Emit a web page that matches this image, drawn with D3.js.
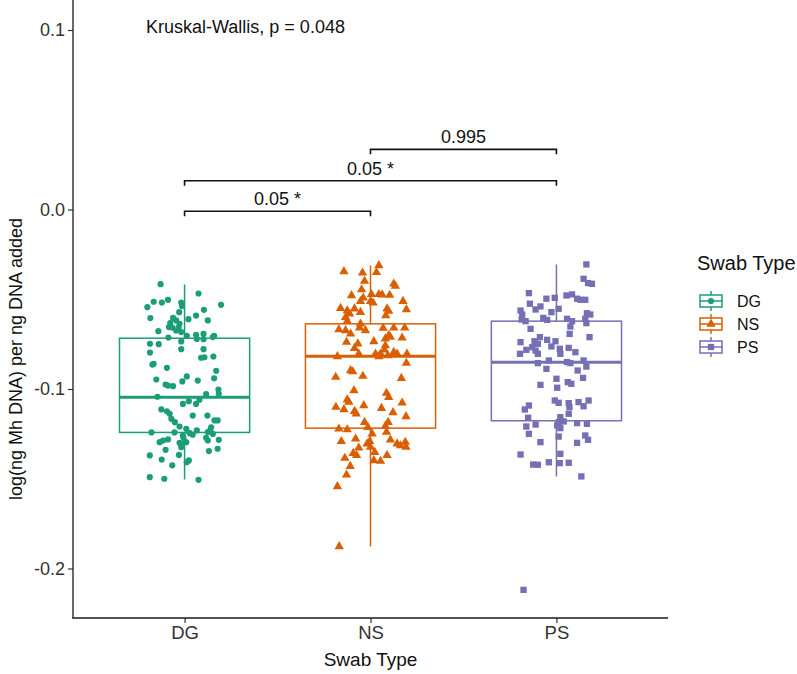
<!DOCTYPE html>
<html>
<head>
<meta charset="utf-8">
<script src="https://cdn.jsdelivr.net/npm/d3@7"></script>
<style>
  html, body { margin: 0; padding: 0; background: #ffffff; }
  svg { display: block; font-family: "Liberation Sans", Arial, Helvetica, sans-serif; }
</style>
</head>
<body>
<svg id="chart" width="797" height="674"></svg>
<script>
// ---------------- DATA ----------------
const categories = ["DG", "NS", "PS"];
const colors = ["#1b9e77", "#d95f02", "#7570b3"];
const yTicks = [-0.2, -0.1, 0.0, 0.1];

// box statistics
const boxQ1     = [-0.1242, -0.1218, -0.1177];
const boxMedian = [-0.1046, -0.0818, -0.0851];
const boxQ3     = [-0.0717, -0.0637, -0.0622];
const boxLow    = [-0.1504, -0.1877, -0.1487];
const boxHigh   = [-0.0418, -0.0312, -0.0306];

// jittered observations: value and horizontal jitter (in category-step units)
const dgValues = [-0.0416,-0.0468,-0.0514,-0.0518,-0.0503,-0.0544,-0.0518,-0.0538,-0.0531,-0.0559,-0.0572,-0.0591,-0.0605,-0.0604,-0.0611,-0.0618,-0.0618,-0.0633,-0.0637,-0.0655,-0.0658,-0.0674,-0.0658,-0.0678,-0.0683,-0.0713,-0.0704,-0.0698,-0.0693,-0.0721,-0.0723,-0.0711,-0.0704,-0.0735,-0.0748,-0.0750,-0.0778,-0.0778,-0.0797,-0.0826,-0.0823,-0.0819,-0.0864,-0.0860,-0.0882,-0.0899,-0.0947,-0.0930,-0.0958,-0.0953,-0.0940,-0.0975,-0.0981,-0.0984,-0.1003,-0.1029,-0.1027,-0.1043,-0.1060,-0.1068,-0.1083,-0.1083,-0.1114,-0.1124,-0.1138,-0.1148,-0.1148,-0.1166,-0.1185,-0.1175,-0.1175,-0.1209,-0.1222,-0.1231,-0.1242,-0.1213,-0.1240,-0.1250,-0.1259,-0.1242,-0.1246,-0.1287,-0.1281,-0.1300,-0.1296,-0.1272,-0.1287,-0.1283,-0.1339,-0.1324,-0.1346,-0.1333,-0.1370,-0.1367,-0.1398,-0.1393,-0.1408,-0.1425,-0.1491,-0.1500,-0.1506,-0.1296,-0.1255,-0.1305,-0.1272,-0.1231];
const dgJitter = [-0.129,0.075,-0.166,-0.122,-0.089,-0.200,-0.018,-0.014,0.196,0.104,-0.029,0.062,-0.184,-0.062,0.021,0.125,-0.045,-0.077,-0.027,-0.084,-0.066,-0.045,-0.032,-0.141,-0.018,-0.087,0.012,0.062,0.102,0.066,0.102,0.152,0.159,-0.018,-0.186,-0.139,0.102,-0.018,-0.186,0.089,0.107,0.155,-0.173,-0.166,-0.095,0.170,-0.152,0.012,-0.012,0.071,0.159,-0.102,-0.089,-0.062,0.182,0.116,0.184,-0.146,0.080,0.023,-0.009,0.062,-0.125,-0.095,-0.080,0.044,0.123,-0.071,-0.052,0.161,0.178,-0.027,0.009,0.066,-0.178,0.143,0.125,0.152,-0.009,-0.054,0.027,-0.116,-0.089,-0.027,0.009,0.116,0.125,0.184,-0.102,-0.018,0.131,0.178,-0.187,-0.030,0.023,-0.123,0.012,-0.066,-0.187,-0.109,0.075,-0.134,0.044,-0.014,-0.006,0.138];

const nsValues = [-0.0312,-0.0345,-0.0353,-0.0350,-0.0399,-0.0414,-0.0427,-0.0446,-0.0479,-0.0473,-0.0473,-0.0475,-0.0477,-0.0492,-0.0512,-0.0512,-0.0520,-0.0511,-0.0550,-0.0563,-0.0553,-0.0572,-0.0553,-0.0557,-0.0591,-0.0566,-0.0600,-0.0581,-0.0622,-0.0637,-0.0659,-0.0674,-0.0669,-0.0674,-0.0693,-0.0661,-0.0659,-0.0659,-0.0702,-0.0720,-0.0711,-0.0715,-0.0735,-0.0739,-0.0748,-0.0773,-0.0758,-0.0782,-0.0804,-0.0819,-0.0804,-0.0795,-0.0804,-0.0804,-0.0819,-0.0804,-0.0813,-0.0856,-0.0897,-0.0903,-0.0934,-0.0928,-0.0940,-0.1008,-0.1023,-0.1046,-0.1060,-0.1073,-0.1101,-0.1114,-0.1092,-0.1107,-0.1077,-0.1124,-0.1138,-0.1131,-0.1153,-0.1185,-0.1213,-0.1185,-0.1207,-0.1222,-0.1226,-0.1278,-0.1250,-0.1292,-0.1240,-0.1292,-0.1328,-0.1305,-0.1324,-0.1358,-0.1370,-0.1305,-0.1315,-0.1296,-0.1324,-0.1283,-0.1352,-0.1385,-0.1430,-0.1398,-0.1402,-0.1370,-0.1478,-0.1543,-0.1877];
const nsJitter = [0.045,-0.143,-0.043,0.032,-0.032,0.125,0.134,-0.048,-0.102,0.005,0.045,0.063,0.103,-0.039,-0.054,0.000,0.014,0.175,-0.161,-0.125,-0.086,-0.054,0.089,0.193,0.082,0.098,-0.134,-0.112,-0.125,-0.054,-0.059,-0.027,-0.170,-0.134,-0.107,0.068,0.125,0.184,0.098,0.080,0.107,0.170,0.018,-0.129,-0.068,-0.086,0.080,0.075,0.027,0.045,0.054,0.125,0.143,0.196,-0.178,-0.063,0.093,0.193,-0.107,-0.095,-0.187,-0.041,0.166,-0.089,0.086,0.098,-0.125,-0.116,-0.186,-0.143,-0.036,0.059,0.170,-0.086,-0.077,0.121,0.191,-0.032,-0.014,0.095,0.080,-0.170,-0.125,-0.080,0.009,-0.004,0.086,-0.157,-0.063,-0.018,0.000,-0.093,-0.075,0.143,0.161,0.187,0.191,0.107,0.023,-0.138,-0.109,0.018,0.054,0.089,-0.129,-0.178,-0.168];

const psValues = [-0.0306,-0.0386,-0.0410,-0.0414,-0.0466,-0.0497,-0.0492,-0.0479,-0.0473,-0.0497,-0.0503,-0.0503,-0.0525,-0.0540,-0.0557,-0.0563,-0.0553,-0.0572,-0.0585,-0.0613,-0.0622,-0.0604,-0.0615,-0.0609,-0.0622,-0.0578,-0.0585,-0.0609,-0.0633,-0.0652,-0.0665,-0.0693,-0.0711,-0.0711,-0.0739,-0.0734,-0.0748,-0.0726,-0.0734,-0.0776,-0.0767,-0.0782,-0.0786,-0.0804,-0.0804,-0.0763,-0.0804,-0.0771,-0.0795,-0.0856,-0.0841,-0.0850,-0.0856,-0.0841,-0.0875,-0.0888,-0.0897,-0.0938,-0.0943,-0.0977,-0.0993,-0.0962,-0.0971,-0.1064,-0.1077,-0.1079,-0.1073,-0.1064,-0.1096,-0.1101,-0.1092,-0.1114,-0.1138,-0.1157,-0.1160,-0.1185,-0.1203,-0.1181,-0.1198,-0.1209,-0.1190,-0.1194,-0.1218,-0.1259,-0.1283,-0.1250,-0.1265,-0.1296,-0.1300,-0.1365,-0.1361,-0.1421,-0.1422,-0.1408,-0.1413,-0.1411,-0.1487,-0.2119];
const psJitter = [0.161,0.146,0.170,0.191,-0.148,-0.054,-0.009,0.054,0.084,0.111,0.129,0.155,-0.143,-0.086,-0.112,-0.193,0.012,-0.027,-0.184,-0.187,-0.166,-0.071,-0.050,0.057,0.084,0.164,0.182,0.155,0.161,0.075,-0.139,0.071,0.178,-0.089,-0.193,-0.118,-0.100,-0.050,-0.005,0.018,-0.130,-0.162,-0.112,-0.100,-0.196,-0.027,0.021,0.066,0.102,-0.100,-0.041,0.057,0.075,0.146,0.161,-0.054,0.114,0.143,0.000,-0.086,0.004,0.061,0.080,-0.009,0.012,0.066,0.119,0.173,0.146,0.070,-0.148,-0.170,0.066,0.021,-0.152,0.012,0.004,0.039,-0.112,-0.162,0.111,0.164,0.021,0.155,0.170,-0.148,0.012,-0.086,0.111,-0.193,0.021,-0.125,-0.100,-0.041,0.018,0.066,0.134,-0.177];

// pairwise comparisons
const compFrom   = ["NS", "DG", "DG"];
const compTo     = ["PS", "PS", "NS"];
const compY      = [0.0335, 0.0160, -0.0010];
const compLabels = ["0.995", "0.05 *", "0.05 *"];
const statLabel = "Kruskal-Wallis, p = 0.048";
const statY = 0.1015;
const xTitle = "Swab Type";
const yTitle = "log(ng Mh DNA) per ng DNA added";
const legendTitle = "Swab Type";

// ---------------- CHART ----------------
const svg = d3.select("#chart");
const panel = { left: 73, right: 668, top: 0, bottom: 618 };

const x = d3.scalePoint().domain(categories).range([panel.left, panel.right]).padding(0.6);
const y = d3.scaleLinear().domain([-0.2, 0.1]).range([568.5, 30]);
const step = x.step();
const color = d3.scaleOrdinal().domain(categories).range(colors);
const minusFmt = v => d3.format(".1f")(v).replace("\u2212", "-");

const groups = [
  { cat: "DG", values: dgValues, jitter: dgJitter, shape: d3.symbolCircle, size: 30 },
  { cat: "NS", values: nsValues, jitter: nsJitter, shape: d3.symbolTriangle, size: 38 },
  { cat: "PS", values: psValues, jitter: psJitter, shape: d3.symbolSquare, size: 40 }
];

// boxes
const boxW = 0.35 * step;
categories.forEach((c, i) => {
  const g = svg.append("g");
  const cx = x(c);
  const col = colors[i];
  g.append("line").attr("x1", cx).attr("x2", cx).attr("y1", y(boxQ3[i])).attr("y2", y(boxHigh[i]))
    .attr("stroke", col).attr("stroke-width", 1.5);
  g.append("line").attr("x1", cx).attr("x2", cx).attr("y1", y(boxQ1[i])).attr("y2", y(boxLow[i]))
    .attr("stroke", col).attr("stroke-width", 1.5);
  g.append("rect").attr("x", cx - boxW).attr("width", 2 * boxW)
    .attr("y", y(boxQ3[i])).attr("height", y(boxQ1[i]) - y(boxQ3[i]))
    .attr("fill", "none").attr("stroke", col).attr("stroke-width", 1.5);
  g.append("line").attr("x1", cx - boxW).attr("x2", cx + boxW).attr("y1", y(boxMedian[i])).attr("y2", y(boxMedian[i]))
    .attr("stroke", col).attr("stroke-width", 3);
});

// points
groups.forEach((grp, gi) => {
  svg.append("g").selectAll("path")
    .data(grp.values.map((v, k) => ({ v, j: grp.jitter[k] })))
    .join("path")
    .attr("transform", d => `translate(${x(grp.cat) + d.j * step},${y(d.v)})`)
    .attr("d", d3.symbol().type(grp.shape).size(grp.size))
    .attr("fill", color(grp.cat));
});

// axes
const axisColor = "#1a1a1a";
const yAxis = svg.append("g").attr("transform", `translate(${panel.left},0)`)
  .call(d3.axisLeft(y).tickValues(yTicks).tickFormat(minusFmt).tickSize(5).tickPadding(3));
yAxis.select(".domain").remove();
yAxis.selectAll(".tick line").attr("stroke", "#333").attr("stroke-width", 1.2);
yAxis.selectAll(".tick text").attr("font-size", 18).attr("fill", "#333")
  .attr("font-family", "Liberation Sans, Arial, sans-serif");
svg.append("line").attr("x1", panel.left).attr("x2", panel.left).attr("y1", panel.top).attr("y2", panel.bottom + 0.6)
  .attr("stroke", axisColor).attr("stroke-width", 1.3);

const xAxis = svg.append("g").attr("transform", `translate(0,${panel.bottom})`)
  .call(d3.axisBottom(x).tickSize(5).tickPadding(3));
xAxis.select(".domain").remove();
xAxis.selectAll(".tick line").attr("stroke", "#333").attr("stroke-width", 1.2);
xAxis.selectAll(".tick text").attr("font-size", 18.5).attr("fill", "#333")
  .attr("font-family", "Liberation Sans, Arial, sans-serif");
svg.append("line").attr("x1", panel.left - 0.6).attr("x2", panel.right).attr("y1", panel.bottom).attr("y2", panel.bottom)
  .attr("stroke", axisColor).attr("stroke-width", 1.3);

// axis titles
svg.append("text").attr("x", (panel.left + panel.right) / 2).attr("y", 666)
  .attr("text-anchor", "middle").attr("font-size", 19).attr("fill", "#111").text(xTitle);
svg.append("text").attr("transform", `translate(22,${(panel.top + panel.bottom) / 2 + 50}) rotate(-90)`)
  .attr("text-anchor", "middle").attr("font-size", 18).attr("fill", "#111").text(yTitle);

// stat label
svg.append("text").attr("x", 146).attr("y", y(statY) + 6).attr("font-size", 18).attr("fill", "#111").text(statLabel);

// comparison brackets
const tip = 5;
compFrom.forEach((f, i) => {
  const x1 = x(f), x2 = x(compTo[i]), yy = y(compY[i]);
  svg.append("path")
    .attr("d", `M${x1},${yy + tip}V${yy}H${x2}V${yy + tip}`)
    .attr("fill", "none").attr("stroke", "#111").attr("stroke-width", 1.6);
  svg.append("text").attr("x", (x1 + x2) / 2).attr("y", yy - 6)
    .attr("text-anchor", "middle").attr("font-size", 18).attr("fill", "#111").text(compLabels[i]);
});

// legend
const lg = svg.append("g").attr("transform", "translate(697,0)");
lg.append("text").attr("x", 0).attr("y", 270).attr("font-size", 20).attr("fill", "#111").text(legendTitle);
categories.forEach((c, i) => {
  const cy = 301 + i * 23;
  const g = lg.append("g").attr("transform", `translate(14,${cy})`);
  const col = colors[i];
  g.append("line").attr("x1", 0).attr("x2", 0).attr("y1", -10).attr("y2", -6).attr("stroke", col).attr("stroke-width", 1.5);
  g.append("line").attr("x1", 0).attr("x2", 0).attr("y1", 6).attr("y2", 10).attr("stroke", col).attr("stroke-width", 1.5);
  g.append("rect").attr("x", -11).attr("y", -6).attr("width", 22).attr("height", 12)
    .attr("fill", "#fff").attr("stroke", col).attr("stroke-width", 1.5);
  g.append("line").attr("x1", -11).attr("x2", 11).attr("y1", 0).attr("y2", 0).attr("stroke", col).attr("stroke-width", 1.5);
  g.append("path").attr("d", d3.symbol().type(groups[i].shape).size(groups[i].size)()).attr("fill", col);
  lg.append("text").attr("x", 40).attr("y", cy + 6).attr("font-size", 16).attr("fill", "#111").text(c);
});
</script>
</body>
</html>
